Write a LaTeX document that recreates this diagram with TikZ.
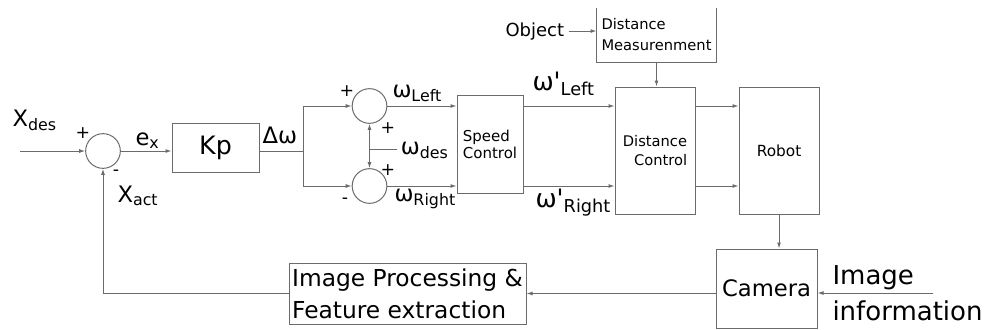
\documentclass[tikz,border=0pt]{standalone}
\usepackage{fontspec}
\setmainfont{DejaVu Sans}
\usepackage{tikz}
\usetikzlibrary{arrows.meta,calc,positioning}
\definecolor{linegray}{gray}{0.42}
\newcommand{\lbl}{\fontsize{17}{20}\selectfont}
\newcommand{\sgn}{\fontsize{13}{15}\selectfont}

\begin{document}
\begin{tikzpicture}[x=0.75pt,y=-0.75pt,>={Latex[length=4.5pt,width=3pt]},
  line width=0.75pt,color=linegray,
  every node/.append style={text=black},
  blk/.style={draw=linegray,line width=0.75pt,inner sep=0pt,align=center},
  sumnode/.style={draw=linegray,line width=0.75pt,circle,inner sep=0pt,minimum size=26pt},
  tag/.style={anchor=base west,inner sep=0pt,font=\lbl},
  sign/.style={inner sep=0pt,font=\sgn}]
\useasboundingbox (0,0) rectangle (984,329);
% ---- error and gain ----
\coordinate (xin) at (20,151);
\node[sumnode] (sum1) at (103,151) {};
\node[blk,minimum width=65.25pt,minimum height=36.75pt,font=\fontsize{19}{22}\selectfont] (kp) at (215.5,147.5) {Kp};
\coordinate (jn) at (303,151);
\node[tag] (xdes) at (12,126.7) {X\textsubscript{des}};
\node[tag] (xact) at (117,202) {X\textsubscript{act}};
\node[tag] (ex) at (135,145) {e\textsubscript{x}};
\node[tag] (dw) at (262,143) {Δω};
\node[sign] (p1) at (83,133) {+};
\node[sign] (m1) at (116,173) {-};
% ---- wheel speeds ----
\node[sumnode] (sumL) at (369.5,106) {};
\node[sumnode] (sumR) at (369.5,186) {};
\node[tag] (wleft) at (392,97) {ω\textsubscript{Left}};
\node[tag] (wright) at (394,201) {ω\textsubscript{Right}};
\node[tag,inner xsep=2.5pt] (wdes) at (397,154) {ω\textsubscript{des}};
\node[sign] (pL1) at (347,91) {+};
\node[sign] (pL2) at (388,128) {+};
\node[sign] (pR1) at (388,170) {+};
\node[sign] (mR1) at (345,201) {-};
% ---- control blocks ----
\node[blk,minimum width=49.5pt,minimum height=73.5pt,align=left,font=\fontsize{11.25}{12.75}\selectfont] (sc) at (490,144) {Speed\\Control};
\node[blk,minimum width=60pt,minimum height=95.25pt,align=right,font=\fontsize{11}{14.25}\selectfont] (dc) at (655,150.5) {Distance\\Control};
\node[inner sep=0pt,minimum width=89.25pt,minimum height=40.5pt,align=left,font=\fontsize{11}{15.75}\selectfont] (dm) at (656.5,35) {Distance\\Measurenment};
\draw (dm.north west) -- (dm.south west) -- (dm.south east) -- (dm.north east);
\node[anchor=base west,inner sep=3pt,font=\fontsize{13.5}{16}\selectfont] (obj) at (501,36) {Object};
\node[tag] (wpleft) at (532,90) {\fontsize{19}{22}\selectfont ω\textquotesingle\textsubscript{Left}};
\node[tag] (wpright) at (535,207) {\fontsize{19}{22}\selectfont ω\textquotesingle\textsubscript{Right}};
\node[blk,minimum width=60pt,minimum height=95.25pt,font=\fontsize{11.5}{14}\selectfont] (robot) at (779,150.5) {Robot};
% ---- vision feedback ----
\node[blk,minimum width=75.75pt,minimum height=59.25pt,font=\fontsize{17}{20}\selectfont] (cam) at (766.5,288.5) {Camera};
\node[blk,minimum width=177.75pt,minimum height=45.75pt,align=left,font=\fontsize{17.5}{24}\selectfont] (ip) at (407.5,293.5) {Image Processing \&\\Feature extraction};
\node[anchor=base west,inner sep=0pt,font=\fontsize{19.5}{23}\selectfont] (imgtxt) at (832,284) {Image};
\node[anchor=base west,inner sep=0pt,font=\fontsize{19.5}{23}\selectfont] (infotxt) at (832,320) {information};
\coordinate (infoend) at (933,293);
% ---- connectors ----
\draw[->] (xin) -- (sum1.west);
\draw[->] (sum1.east) -- (sum1.east -| kp.west);
\draw (kp.east |- jn) -- (jn);
\draw[->] (jn) |- (sumL.west);
\draw[->] (jn) |- (sumR.west);
\draw[<->] (sumL.south) -- (sumR.north);
\draw (wdes.west) -- (wdes.west -| sumL.south);
\draw[->] (sumL.east) -- (sumL.east -| sc.west);
\draw[->] (sumR.east) -- (sumR.east -| sc.west);
\draw[->] (sc.east |- sumL) -- (dc.west |- sumL);
\draw[->] (sc.east |- sumR) -- (dc.west |- sumR);
\draw[->] (dc.east |- sumL) -- (robot.west |- sumL);
\draw[->] (dc.east |- sumR) -- (robot.west |- sumR);
\draw[->] (obj.east) -- (obj.east -| dm.west);
\draw[->] (dm.south) -- (dm.south |- dc.north);
\draw[->] (robot.south) -- (robot.south |- cam.north);
\draw[->] (infoend) -- (cam.east |- infoend);
\draw[->] (cam.west |- ip.east) -- (ip.east);
\draw[->] (ip.west) -| (sum1.south);
\end{tikzpicture}
\end{document}
